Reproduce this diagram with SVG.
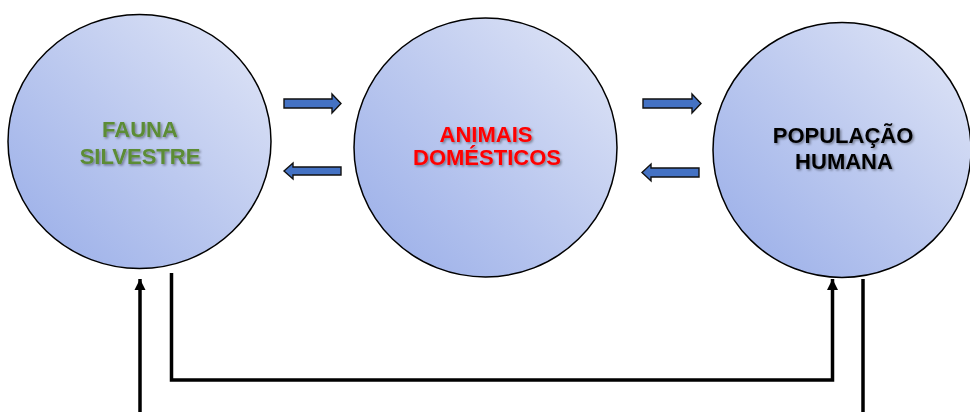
<svg xmlns="http://www.w3.org/2000/svg" width="970" height="412" viewBox="0 0 970 412">
  <defs>
    <linearGradient id="ballFill" x1="0" y1="1" x2="1" y2="0">
      <stop offset="0" stop-color="#97ACE8"/>
      <stop offset="0.5" stop-color="#BCC9EF"/>
      <stop offset="1" stop-color="#E2E7F7"/>
    </linearGradient>
    <filter id="softShadow" x="-10%" y="-20%" width="120%" height="150%">
      <feDropShadow dx="1.5" dy="1.5" stdDeviation="1.2" flood-color="#000" flood-opacity="0.4"/>
    </filter>
    <marker id="tip" markerUnits="userSpaceOnUse" markerWidth="12" markerHeight="12" viewBox="0 0 12 12" refX="11" refY="6" orient="auto">
      <path d="M0,0.5 L11,6 L0,11.5 Z" fill="#000"/>
    </marker>
  </defs>
  <style>
    .ball { fill: url(#ballFill); stroke: #000; stroke-width: 1.5; }
    .label { font-family: "Liberation Sans", Arial, sans-serif; font-weight: bold; font-size: 22px; text-anchor: middle; filter: url(#softShadow); }
    .flow { fill: #4472C4; stroke: #111; stroke-width: 1.4; stroke-linejoin: miter; }
    .link { fill: none; stroke: #000; stroke-width: 3.5; }
  </style>

  <rect width="970" height="412" fill="#fff"/>

  <g id="fauna-silvestre">
    <ellipse class="ball" cx="139.5" cy="141.5" rx="131.5" ry="127"/>
    <text class="label" fill="#5B8C34" x="140" y="137">FAUNA</text>
    <text class="label" fill="#5B8C34" x="140" y="164">SILVESTRE</text>
  </g>

  <g id="animais-domesticos">
    <ellipse class="ball" cx="485.5" cy="147.5" rx="131.5" ry="129.5"/>
    <text class="label" fill="#FF0000" x="486" y="142">ANIMAIS</text>
    <text class="label" fill="#FF0000" x="487" y="165">DOMÉSTICOS</text>
  </g>

  <g id="populacao-humana">
    <ellipse class="ball" cx="842" cy="150" rx="129" ry="127.5"/>
    <text class="label" fill="#000" x="843" y="143">POPULAÇÃO</text>
    <text class="label" fill="#000" x="844" y="169">HUMANA</text>
  </g>

  <g id="connectors">
    <!-- block arrows between the circles -->
    <polygon class="flow" points="284,99 332,99 332,94 341,103.5 332,113 332,108 284,108"/>
    <polygon class="flow" points="341,167 293,167 293,163 284,171 293,179 293,175 341,175"/>
    <polygon class="flow" points="643,99 692,99 692,94 701,103.5 692,113 692,108 643,108"/>
    <polygon class="flow" points="699,168 651,168 651,164 642,172.5 651,181 651,177 699,177"/>
    <!-- black lines below -->
    <line class="link" x1="140" y1="412" x2="140" y2="279" marker-end="url(#tip)"/>
    <polyline class="link" points="171.5,273 171.5,380 832.5,380 832.5,279" marker-end="url(#tip)"/>
    <line class="link" x1="863" y1="279" x2="863" y2="412"/>
  </g>
</svg>
